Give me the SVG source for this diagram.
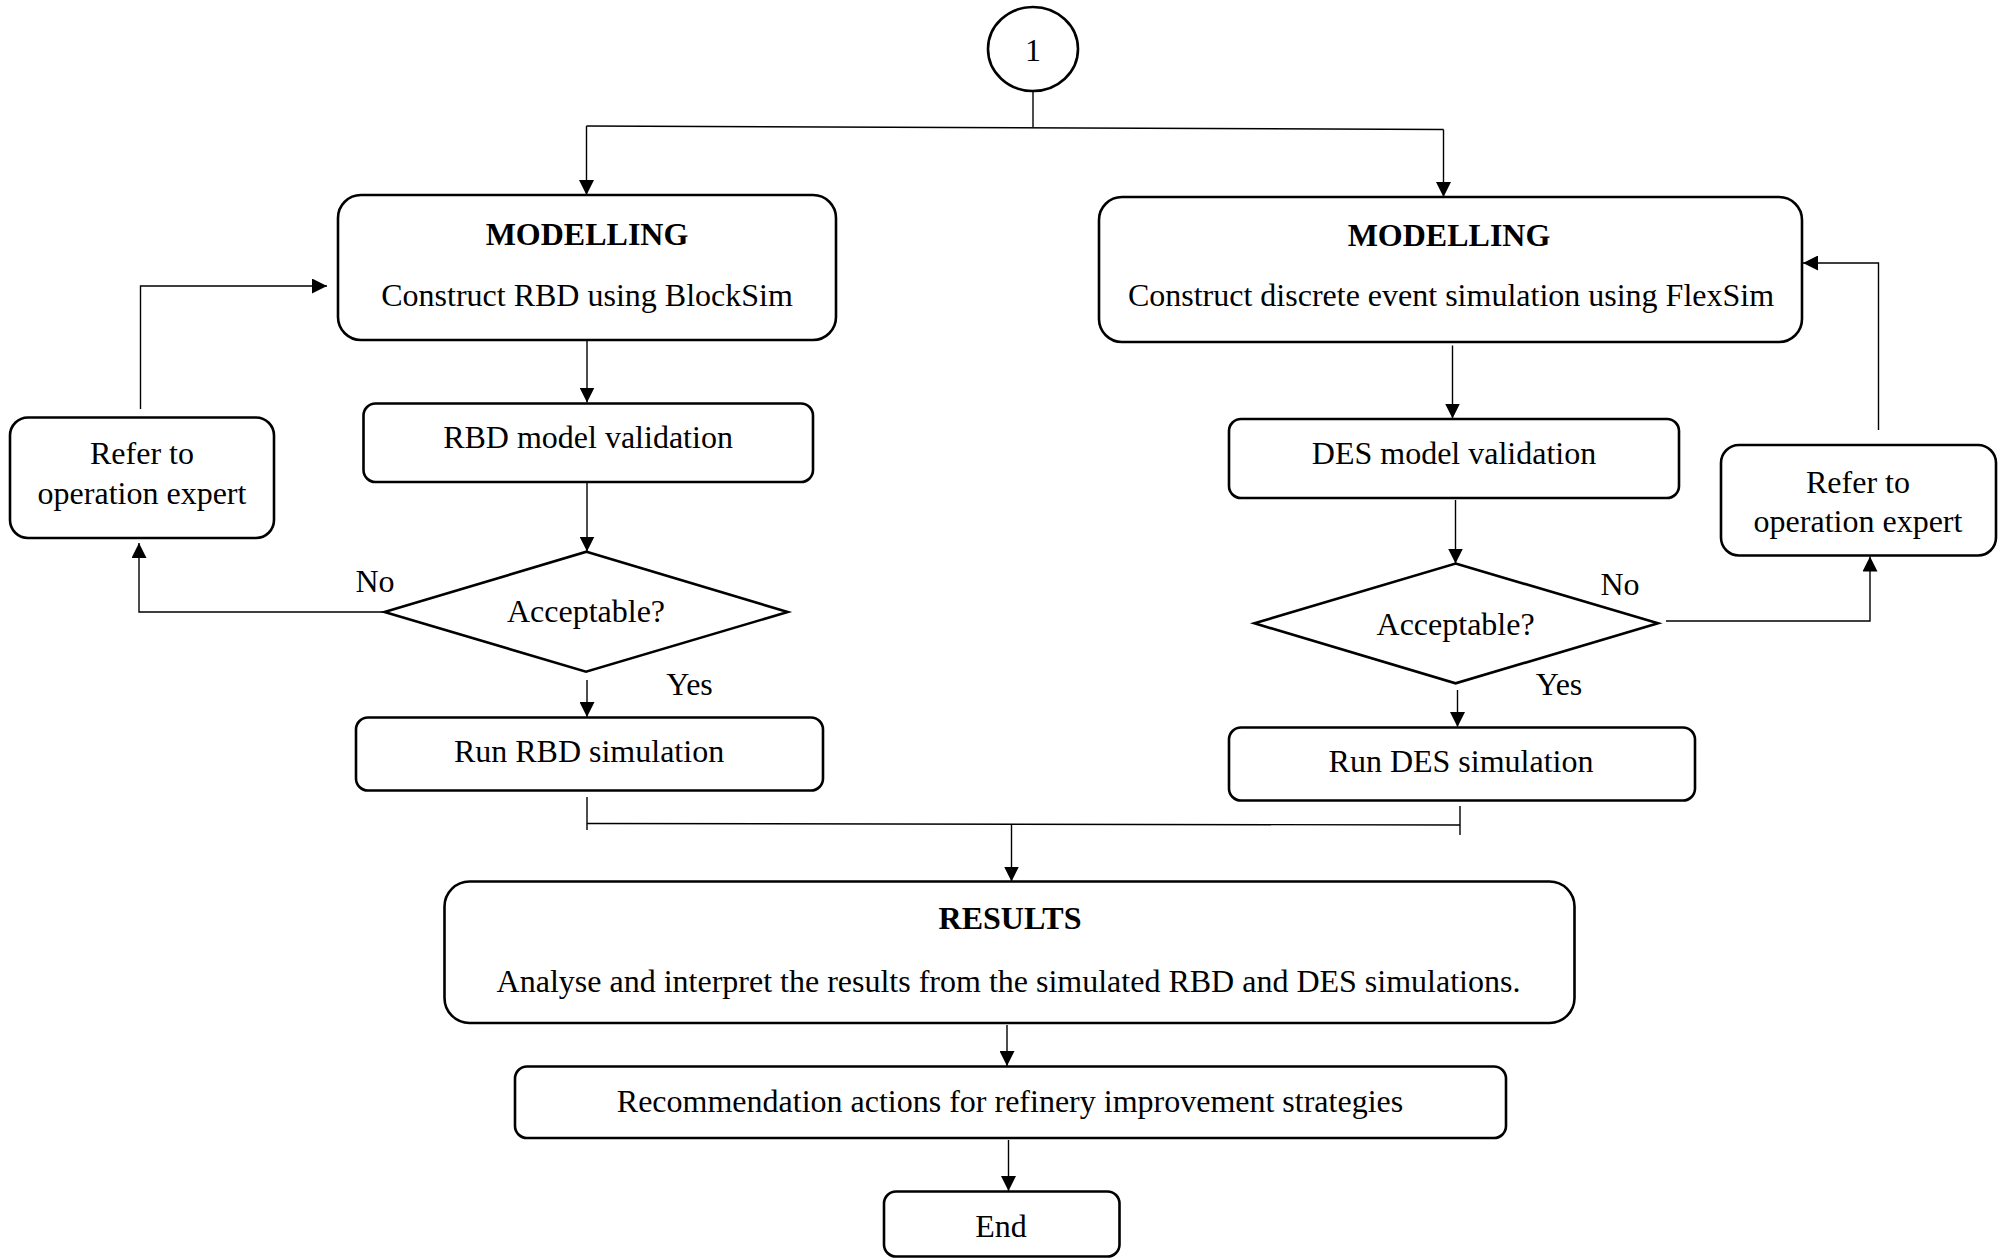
<svg xmlns="http://www.w3.org/2000/svg" width="2002" height="1258" viewBox="0 0 2002 1258">
  <style>
    .box { fill: #ffffff; stroke: #000000; stroke-width: 2.6; }
    .conn { fill: none; stroke: #000000; stroke-width: 1.4; }
    .lbl { font-family: "Liberation Serif", "Times New Roman", serif; font-size: 32px; fill: #000000; text-anchor: middle; }
    .hd { font-weight: bold; }
  </style>
  <defs>
    <marker id="arrow" markerWidth="15" markerHeight="15" refX="15" refY="7.5" orient="auto" markerUnits="userSpaceOnUse">
      <path d="M0,0 L15,7.5 L0,15 z" fill="#000000"/>
    </marker>
  </defs>
  <rect width="2002" height="1258" fill="#ffffff"/>

  <!-- connectors -->
  <g id="connectors">
    <path class="conn" d="M1033,91 V127"/>
    <path class="conn" d="M586.5,126 L1443.5,129.5"/>
    <path class="conn" d="M586.5,126 V195" marker-end="url(#arrow)"/>
    <path class="conn" d="M1443.5,129.5 V197" marker-end="url(#arrow)"/>

    <!-- RBD branch -->
    <path class="conn" d="M587,336 V402.5" marker-end="url(#arrow)"/>
    <path class="conn" d="M587,483 V551.5" marker-end="url(#arrow)"/>
    <path class="conn" d="M384.5,612 H139 V543" marker-end="url(#arrow)"/>
    <path class="conn" d="M140.5,409 V286 H327" marker-end="url(#arrow)"/>
    <path class="conn" d="M587,680 V717" marker-end="url(#arrow)"/>

    <!-- DES branch -->
    <path class="conn" d="M1452.5,345.5 V418.5" marker-end="url(#arrow)"/>
    <path class="conn" d="M1455.5,500 V563.5" marker-end="url(#arrow)"/>
    <path class="conn" d="M1666,621 H1870 V556.5" marker-end="url(#arrow)"/>
    <path class="conn" d="M1878.5,430 V263 H1803" marker-end="url(#arrow)"/>
    <path class="conn" d="M1457.5,690 V727" marker-end="url(#arrow)"/>

    <!-- merge into results -->
    <path class="conn" d="M587,797 V830"/>
    <path class="conn" d="M587,823.5 L1460,825"/>
    <path class="conn" d="M1460,806 V835"/>
    <path class="conn" d="M1011.5,825 V881.5" marker-end="url(#arrow)"/>
    <path class="conn" d="M1007,1025 V1066" marker-end="url(#arrow)"/>
    <path class="conn" d="M1008.5,1140 V1191" marker-end="url(#arrow)"/>
  </g>

  <!-- nodes -->
  <g id="start">
    <ellipse class="box" cx="1033" cy="49" rx="45" ry="42" stroke-width="3"/>
    <text class="lbl" x="1033" y="61">1</text>
  </g>

  <g id="modelling-rbd">
    <rect class="box" x="338" y="195" width="498" height="145" rx="23"/>
    <text class="lbl hd" x="587" y="245">MODELLING</text>
    <text class="lbl" x="587" y="306">Construct RBD using BlockSim</text>
  </g>

  <g id="rbd-validation">
    <rect class="box" x="363.5" y="403.5" width="449.5" height="78.5" rx="12"/>
    <text class="lbl" x="588" y="448">RBD model validation</text>
  </g>

  <g id="refer-left">
    <rect class="box" x="10" y="417.5" width="264" height="120.5" rx="18"/>
    <text class="lbl" x="142" y="464">Refer to</text>
    <text class="lbl" x="142" y="503.5">operation expert</text>
  </g>

  <g id="decision-rbd">
    <polygon class="box" points="586.5,551.7 787.7,612 586,671.7 384.5,612"/>
    <text class="lbl" x="586" y="621.7">Acceptable?</text>
    <text class="lbl" x="375" y="591.7">No</text>
    <text class="lbl" x="689.5" y="695">Yes</text>
  </g>

  <g id="run-rbd">
    <rect class="box" x="356" y="717.5" width="467" height="73" rx="12"/>
    <text class="lbl" x="589" y="761.7">Run RBD simulation</text>
  </g>

  <g id="modelling-des">
    <rect class="box" x="1099" y="197" width="703" height="145" rx="23"/>
    <text class="lbl hd" x="1449" y="245.7">MODELLING</text>
    <text class="lbl" x="1451" y="306.4">Construct discrete event simulation using FlexSim</text>
  </g>

  <g id="des-validation">
    <rect class="box" x="1229" y="419" width="450" height="79" rx="12"/>
    <text class="lbl" x="1454" y="464.3">DES model validation</text>
  </g>

  <g id="refer-right">
    <rect class="box" x="1721" y="445" width="275" height="110.5" rx="18"/>
    <text class="lbl" x="1858" y="493">Refer to</text>
    <text class="lbl" x="1858" y="532">operation expert</text>
  </g>

  <g id="decision-des">
    <polygon class="box" points="1455.6,563.5 1658,623.3 1455.6,683.3 1254.5,623.3"/>
    <text class="lbl" x="1455.6" y="635">Acceptable?</text>
    <text class="lbl" x="1620" y="595">No</text>
    <text class="lbl" x="1559" y="695">Yes</text>
  </g>

  <g id="run-des">
    <rect class="box" x="1229" y="727.5" width="466" height="73" rx="12"/>
    <text class="lbl" x="1461" y="772.3">Run DES simulation</text>
  </g>

  <g id="results">
    <rect class="box" x="444.5" y="881.5" width="1130" height="141.5" rx="25"/>
    <text class="lbl hd" x="1010" y="929.3">RESULTS</text>
    <text class="lbl" x="1008.5" y="991.7">Analyse and interpret the results from the simulated RBD and DES simulations.</text>
  </g>

  <g id="recommendation">
    <rect class="box" x="515" y="1066.5" width="991" height="71.5" rx="12"/>
    <text class="lbl" x="1010" y="1111.7">Recommendation actions for refinery improvement strategies</text>
  </g>

  <g id="end">
    <rect class="box" x="884" y="1191.5" width="235.5" height="65" rx="12"/>
    <text class="lbl" x="1001" y="1236.7">End</text>
  </g>
</svg>
